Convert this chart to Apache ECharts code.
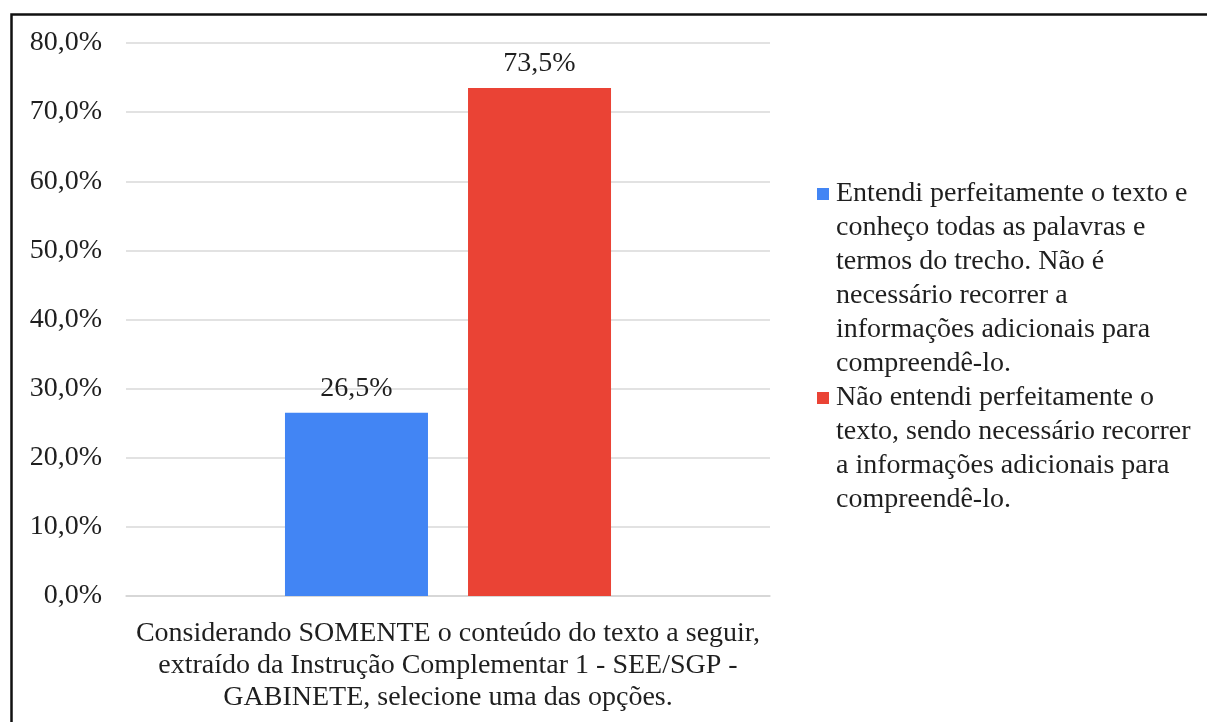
<!DOCTYPE html>
<html>
<head>
<meta charset="utf-8">
<script src="https://cdn.jsdelivr.net/npm/echarts@6/dist/echarts.min.js"></script>
<style>
  html, body { margin: 0; padding: 0; background: #fff; }
  #chart { width: 1207px; height: 722px; }
</style>
</head>
<body>
<div id="chart"></div>
<script>
// Question (x-axis category), wrapped into its printed lines
const categoryLines = [
  'Considerando SOMENTE o conteúdo do texto a seguir,',
  'extraído da Instrução Complementar 1 - SEE/SGP -',
  'GABINETE, selecione uma das opções.'
];

// Answer options, one array of wrapped lines per option
const seriesLines = [
  [
    'Entendi perfeitamente o texto e',
    'conheço todas as palavras e',
    'termos do trecho. Não é',
    'necessário recorrer a',
    'informações adicionais para',
    'compreendê-lo.'
  ],
  [
    'Não entendi perfeitamente o',
    'texto, sendo necessário recorrer',
    'a informações adicionais para',
    'compreendê-lo.'
  ]
];

// Share of answers (%) for each option
const seriesValues = [26.5, 73.5];
const seriesColors = ['#4285F4', '#EA4335'];

// Value axis ticks (%)
const yMin = 0;
const yMax = 80;
const yStep = 10;

const FONT = 'Liberation Serif, Times New Roman, serif';
const TEXT = '#1f1f1f';
const LINE_H = 34;

const category = categoryLines.join('\n');
const seriesNames = seriesLines.map(l => l.join(' '));
const maxLines = Math.max(...seriesLines.map(l => l.length));
const blockH = maxLines * LINE_H;

const fmtPct = v => v.toFixed(1).replace('.', ',') + '%';

// Legend marker: a small square beside the first text line, inside a box as tall as the tallest entry
const marker = 'path://M0,0L0.01,0M0,11L12,11L12,23L0,23ZM14,' + blockH + 'L13.99,' + blockH;

// Every legend entry fills the same number of lines so the marker stays on its first line
const legendText = name => {
  const lines = seriesLines[seriesNames.indexOf(name)].slice();
  while (lines.length < maxLines) lines.push('');
  return lines.join('\n');
};

const chart = echarts.init(document.getElementById('chart'), null, { renderer: 'canvas' });

chart.setOption({
  backgroundColor: '#ffffff',
  animation: false,
  textStyle: { fontFamily: FONT },
  graphic: [{
    type: 'rect',
    left: 9, top: 12,
    shape: { x: 0, y: 0, width: 1300, height: 800 },
    style: { fill: 'none', stroke: '#111', lineWidth: 2.5 },
    silent: true
  }],
  grid: { left: 126, right: 437, top: 43, bottom: 126, containLabel: false },
  legend: {
    orient: 'vertical',
    left: 812,
    top: 172,
    itemWidth: 14,
    itemHeight: blockH,
    itemGap: 0,
    selectedMode: false,
    formatter: legendText,
    textStyle: { fontFamily: FONT, fontSize: 28, color: TEXT, lineHeight: LINE_H },
    data: seriesNames.map(n => ({ name: n, icon: marker }))
  },
  xAxis: {
    type: 'category',
    data: [category],
    axisTick: { show: false },
    axisLine: { lineStyle: { color: '#d4d4d4', width: 1.5 } },
    axisLabel: {
      margin: 22,
      fontFamily: FONT, fontSize: 28, color: TEXT, lineHeight: 32, align: 'center'
    }
  },
  yAxis: {
    type: 'value',
    min: yMin, max: yMax, interval: yStep,
    axisLine: { show: false },
    axisTick: { show: false },
    splitLine: { lineStyle: { color: '#d9d9d9', width: 1.5 } },
    axisLabel: {
      margin: 24,
      fontFamily: FONT, fontSize: 28, color: TEXT,
      formatter: v => fmtPct(v)
    }
  },
  series: seriesNames.map((n, i) => ({
    type: 'bar',
    name: n,
    data: [seriesValues[i]],
    barWidth: 143,
    barGap: '28%',
    itemStyle: { color: seriesColors[i] },
    label: {
      show: true,
      position: 'top',
      distance: 10,
      fontFamily: FONT, fontSize: 28, color: TEXT,
      formatter: p => fmtPct(p.value)
    }
  }))
});
</script>
</body>
</html>
